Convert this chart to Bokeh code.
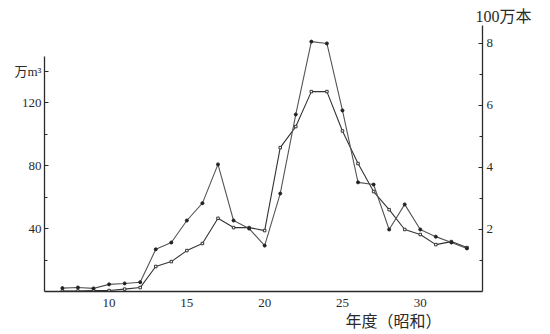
from bokeh.plotting import figure
from bokeh.models import Range1d, LinearAxis, FixedTicker, Title
from bokeh.embed import file_html
from bokeh.resources import INLINE

# Showa years
years = list(range(7, 34))
# right axis series (100万本)
count_series = [0.11, 0.13, 0.10, 0.23, 0.26, 0.30, 1.36, 1.58, 2.29, 2.85,
                4.10, 2.29, 2.03, 1.48, 3.16, 5.71, 8.06, 8.00, 5.84, 3.52,
                3.45, 2.00, 2.81, 2.00, 1.77, 1.58, 1.39]
# left axis series (万m3)
volume_series = [0.3, 0.3, 0.6, 0.6, 1.5, 2.5, 15.9, 19.0, 26.0, 30.5,
                 46.5, 40.6, 40.6, 38.7, 91.4, 104.8, 127.0, 127.0, 102.0, 81.3,
                 63.5, 52.0, 39.4, 36.2, 29.8, 31.7, 27.9]
x_ticks = [10, 15, 20, 25, 30]
left_ticks = [40, 80, 120, 140]
left_labels = {40: "40", 80: "80", 120: "120", 140: "万m³"}
left_minor = [20, 60, 100]
right_ticks = [2, 4, 6, 8]
right_minor = [1, 3, 5, 7]

CJK = "Liberation Serif, Noto Sans CJK SC"
INK = "#2a2a2a"

p = figure(width=550, height=334, output_backend="svg", toolbar_location=None,
           x_range=Range1d(5.85, 34.0), y_range=Range1d(0, 169),
           min_border_left=44, min_border_right=68, min_border_top=25,
           min_border_bottom=43)
p.extra_y_ranges = {"right": Range1d(0, 8.58)}
p.grid.visible = False
p.outline_line_color = None
p.background_fill_color = "white"

def style_axis(ax):
    ax.axis_line_color = INK
    ax.axis_line_width = 1.3
    ax.major_tick_line_color = INK
    ax.minor_tick_line_color = INK
    ax.major_tick_in = 4
    ax.major_tick_out = 0
    ax.minor_tick_in = 3
    ax.minor_tick_out = 0
    ax.major_label_text_font = CJK
    ax.major_label_text_font_size = "13px"
    ax.major_label_text_color = INK
    ax.major_label_standoff = 4

yl = p.yaxis[0]
yl.ticker = FixedTicker(ticks=left_ticks, minor_ticks=left_minor)
yl.major_label_overrides = left_labels
yl.bounds = (0, 149)
style_axis(yl)
yl.major_label_standoff = 3

xa = p.xaxis[0]
xa.ticker = FixedTicker(ticks=x_ticks)
style_axis(xa)
xa.major_tick_in = 0
xa.minor_tick_in = 0
xa.major_label_standoff = 7

yr = LinearAxis(y_range_name="right")
yr.ticker = FixedTicker(ticks=right_ticks, minor_ticks=right_minor)
style_axis(yr)
p.add_layout(yr, "right")

p.line(years, volume_series, line_color="#333333", line_width=1.1)
p.scatter(years, volume_series, marker="square", size=2.5,
          line_color="#333333", fill_color="white")
p.line(years, count_series, y_range_name="right", line_color="#555555", line_width=1.1)
p.scatter(years, count_series, y_range_name="right", marker="circle", size=3,
          line_color="#222222", fill_color="#222222")

top_title = Title(text="100万本", align="left", offset=431, standoff=2,
                  text_font=CJK, text_font_size="16px", text_font_style="normal",
                  text_color=INK)
p.add_layout(top_title, "above")
bottom_title = Title(text="年度（昭和）", align="left", offset=301, standoff=2,
                     text_font=CJK, text_font_size="16px", text_font_style="normal",
                     text_color=INK)
p.add_layout(bottom_title, "below")

open("out.html", "w").write(file_html(p, INLINE))
